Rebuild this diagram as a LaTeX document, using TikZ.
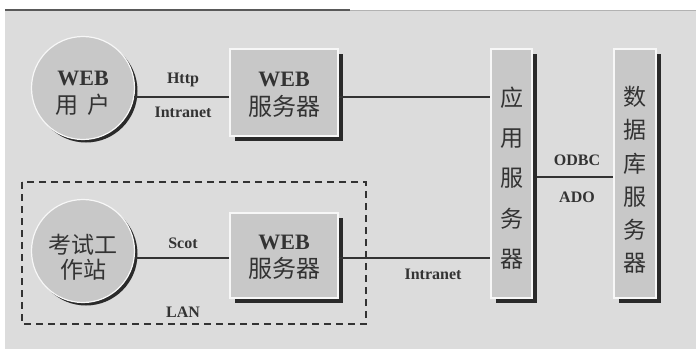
\documentclass[tikz,border=0pt]{standalone}
\usepackage{fontspec}
\setmainfont{Liberation Serif}
\newfontfamily\cjk{Noto Sans CJK SC}
\usetikzlibrary{shadows,calc}
\definecolor{bg}{HTML}{DCDCDC}
\definecolor{face}{HTML}{C8C8C8}
\definecolor{ink}{HTML}{333333}
\definecolor{shd}{HTML}{2A2A2A}
\begin{document}
\begin{tikzpicture}[x=1pt,y=-1pt,
  conn/.style={draw=ink, line width=1.6pt},
  panel/.style={fill=face, draw=white!85!face, line width=1.2pt, inner sep=0pt, text=ink,
    general shadow={fill=shd, shadow xshift=4.5pt, shadow yshift=-4.5pt}},
  disc/.style={fill=face, draw=white!85!face, line width=1.2pt, inner sep=0pt, circle, minimum size=103pt,
    general shadow={fill=shd, shadow xshift=3pt, shadow yshift=-3pt}},
  lbl/.style={text=ink, inner sep=1pt, font=\fontsize{16}{16}\selectfont\bfseries},
  twol/.style={text=ink, align=center, inner sep=0pt},
]
\useasboundingbox (0,0) rectangle (696,349);
\fill[white] (0,0) rectangle (696,349);
\fill[bg] (5,10) rectangle (696,349);
\draw[gray!70!black, line width=1.2pt] (5,10) -- (350,10);
\draw[gray!60, line width=1pt] (350,10) -- (696,10);

% dashed LAN frame
\draw[ink, line width=1.3pt, dash pattern=on 7pt off 5pt] (22,182) rectangle (366,324);

% circles
\node[disc] (u1) at (83,88) {};
\node[twol] (u1t) at (83,93) {{\fontsize{22}{22}\selectfont\bfseries WEB}\\[7pt]{\cjk\fontsize{23}{23}\selectfont 用\hspace{0.4em}户}};
\node[disc] (u2) at (83,251) {};
\node[twol] (u2t) at (83,257) {{\cjk\fontsize{23}{30}\selectfont 考试工}\\[3pt]{\cjk\fontsize{23}{23}\selectfont 作站}};

% web servers
\node[panel, minimum width=108pt, minimum height=87pt] (w1) at (284,92.5) {};
\node[twol] (w1t) at (284,95) {{\fontsize{22}{22}\selectfont\bfseries WEB}\\[7pt]{\cjk\fontsize{24}{24}\selectfont 服务器}};
\node[panel, minimum width=108pt, minimum height=85pt] (w2) at (284,255.5) {};
\node[twol] (w2t) at (284,257.5) {{\fontsize{22}{22}\selectfont\bfseries WEB}\\[7pt]{\cjk\fontsize{24}{24}\selectfont 服务器}};

% app server and db server
\node[panel, minimum width=41pt, minimum height=249pt] (app) at (511.5,173.5) {};
\node[twol, font=\cjk\fontsize{23}{40.3}\selectfont] (appt) at (511.5,178) {应\\用\\服\\务\\器};
\node[panel, minimum width=42pt, minimum height=249pt] (db) at (635,173.5) {};
\node[twol, font=\cjk\fontsize{23}{33.2}\selectfont] (dbt) at (635,180) {数\\据\\库\\服\\务\\器};

% connectors
\draw[conn] (u1.-10) -- (u1.-10 -| w1.west);
\draw[conn] (w1.east |- u1.-10) -- (u1.-10 -| app.west);
\draw[conn] (u2.-8) -- (u2.-8 -| w2.west);
\draw[conn] (w2.east |- u2.-8) -- (u2.-8 -| app.west);
\draw[conn] ($(app.east)+(4.5,3.5)$) -- ($(db.west)+(0,3.5)$);

% labels
\node[lbl] (lhttp) at (183,80) {Http};
\node[lbl] (lint1) at (183,112) {Intranet};
\node[lbl] (lscot) at (183,243) {Scot};
\node[lbl] (llan) at (183,312) {LAN};
\node[lbl] (lint2) at (433,274) {Intranet};
\node[lbl] (lodbc) at (577,160) {ODBC};
\node[lbl] (lado) at (577,197) {ADO};
\end{tikzpicture}
\end{document}
